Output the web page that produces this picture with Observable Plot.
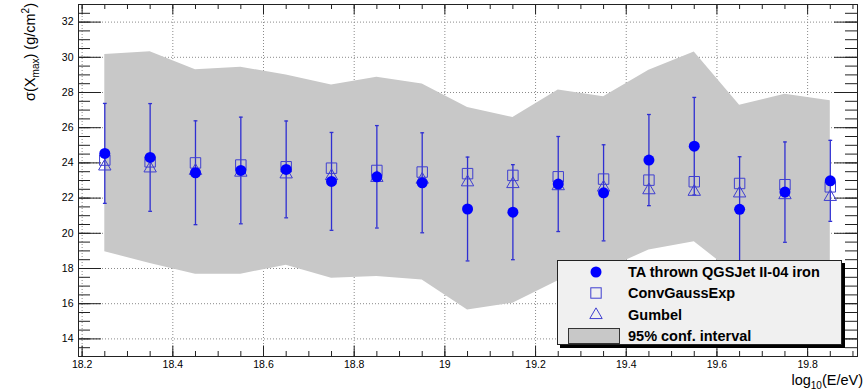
<!DOCTYPE html>
<html>
<head>
<meta charset="utf-8">
<script src="https://cdn.jsdelivr.net/npm/d3@7"></script>
<script src="https://cdn.jsdelivr.net/npm/@observablehq/plot@0.6"></script>
<style>
  body { margin: 0; background: #fff; }
  #wrap { position: relative; width: 866px; height: 391px; font-family: "Liberation Sans", Arial, Helvetica, sans-serif; }
  #legend { position: absolute; left: 557px; top: 260px; width: 285px; height: 85px; box-sizing: border-box;
            background: #f0f0f0; border: 1px solid #222; box-shadow: 3px 3px 0 #000; }
  #legend .row { position: absolute; left: 0; height: 20px; width: 100%; }
  #legend .lab { position: absolute; left: 70px; top: 50%; transform: translateY(-50%); font-weight: bold; font-size: 14.5px; color: #000; white-space: nowrap; }
  #legend svg { position: absolute; left: 0; top: 0; }
</style>
</head>
<body>
<div id="wrap"></div>
<script>
// ---- data ----
const energy = [18.25, 18.35, 18.45, 18.55, 18.65, 18.75, 18.85, 18.95, 19.05, 19.15, 19.25, 19.35, 19.45, 19.55, 19.65, 19.75, 19.85];
const taIron = [24.54, 24.31, 23.44, 23.57, 23.63, 22.95, 23.21, 22.87, 21.38, 21.20, 22.80, 22.30, 24.16, 24.95, 21.36, 22.34, 22.98];
const taErr = [2.84, 3.06, 2.95, 3.03, 2.75, 2.78, 2.91, 2.84, 2.95, 2.70, 2.70, 2.73, 2.59, 2.77, 2.99, 2.85, 2.30];
const convGaussExp = [24.16, 24.06, 24.00, 23.88, 23.78, 23.70, 23.57, 23.48, 23.39, 23.29, 23.21, 23.08, 23.02, 22.93, 22.83, 22.76, 22.64];
const gumbel = [23.80, 23.69, 23.55, 23.45, 23.35, 23.25, 23.15, 23.05, 22.90, 22.80, 22.68, 22.60, 22.45, 22.36, 22.27, 22.17, 22.07];
const bandLow = [18.95, 18.29, 17.68, 17.68, 18.19, 17.45, 17.55, 17.34, 15.64, 16.03, 17.30, 17.90, 19.05, 19.52, 17.50, 17.60, 17.30];
const bandHigh = [30.16, 30.31, 29.29, 29.44, 28.99, 28.42, 28.86, 28.48, 27.15, 26.58, 28.14, 27.76, 29.27, 30.30, 27.28, 27.90, 27.53];
const xTicks = [18.2, 18.4, 18.6, 18.8, 19.0, 19.2, 19.4, 19.6, 19.8];
const yTicks = [14, 16, 18, 20, 22, 24, 26, 28, 30, 32];
const legendLabels = ["TA thrown QGSJet II-04 iron", "ConvGaussExp", "Gumbel", "95% conf. interval"];

// ---- layout ----
const width = 866, height = 391;
const mL = 78, mR = 9, mT = 4, mB = 35;
const W = width - mL - mR, H = height - mT - mB;
const xDomain = [18.192, 19.91], yDomain = [13, 33];

const blue = "#0000ff", barBlue = "#2f2fd2", openBlue = "#3f3fd0", bandGray = "#c8c8c8", axisCol = "#222";

const rows = energy.map((x, i) => ({x, ta: taIron[i], err: taErr[i], cge: convGaussExp[i], gum: gumbel[i], lo: bandLow[i], hi: bandHigh[i]}));
const xMinor = d3.range(0, 35).map(k => 18.2 + 0.05 * k).filter(v => v <= xDomain[1]);
const yMinor = d3.range(0, 41).map(k => 13 + 0.5 * k);

const capSymbol = {
  draw(ctx, size) { const h = Math.sqrt(size / Math.PI); ctx.moveTo(-h, 0); ctx.lineTo(h, 0); }
};
const fmt = d => String(Math.round(d * 10) / 10);

const chart = Plot.plot({
  width, height,
  marginLeft: mL, marginRight: mR, marginTop: mT, marginBottom: mB,
  x: {domain: xDomain, axis: null},
  y: {domain: yDomain, axis: null},
  style: {fontFamily: '"Liberation Sans", Arial, Helvetica, sans-serif', fontSize: "10.5px", background: "#fff", overflow: "visible"},
  marks: [
    Plot.gridX(xTicks, {stroke: "#8a8a8a", strokeOpacity: 1, strokeDasharray: "1,2"}),
    Plot.gridY(yTicks, {stroke: "#8a8a8a", strokeOpacity: 1, strokeDasharray: "1,2"}),
    Plot.areaY(rows, {x: "x", y1: "lo", y2: "hi", fill: bandGray}),
    // inward ticks, ROOT style, on all four sides
    Plot.ruleX(xMinor, {insetTop: H - 5, stroke: axisCol}),
    Plot.ruleX(xTicks, {insetTop: H - 10.5, stroke: axisCol}),
    Plot.ruleX(xMinor, {insetBottom: H - 5, stroke: axisCol}),
    Plot.ruleX(xTicks, {insetBottom: H - 10.5, stroke: axisCol}),
    Plot.ruleY(yMinor, {insetRight: W - 12, stroke: axisCol}),
    Plot.ruleY(yTicks, {insetRight: W - 23, stroke: axisCol}),
    Plot.ruleY(yMinor, {insetLeft: W - 12, stroke: axisCol}),
    Plot.ruleY(yTicks, {insetLeft: W - 23, stroke: axisCol}),
    Plot.axisX(xTicks, {tickSize: 0, tickPadding: 4, tickFormat: fmt, label: null, fontSize: 10.5}),
    Plot.axisY(yTicks, {tickSize: 0, tickPadding: 5, tickFormat: fmt, label: null, fontSize: 10.5}),
    Plot.frame({stroke: axisCol}),
    // error bars
    Plot.ruleX(rows, {x: "x", y1: d => d.ta - d.err, y2: d => d.ta + d.err, stroke: barBlue, strokeWidth: 1.3}),
    Plot.dot(rows, {x: "x", y: d => d.ta - d.err, symbol: capSymbol, r: 1.9, stroke: barBlue, strokeWidth: 1.3, fill: "none"}),
    Plot.dot(rows, {x: "x", y: d => d.ta + d.err, symbol: capSymbol, r: 1.9, stroke: barBlue, strokeWidth: 1.3, fill: "none"}),
    // markers
    Plot.dot(rows, {x: "x", y: "cge", symbol: "square", r: 5.9, stroke: openBlue, strokeWidth: 1, fill: "none"}),
    Plot.dot(rows, {x: "x", y: "gum", symbol: "triangle", r: 4.6, stroke: openBlue, strokeWidth: 1, fill: "none"}),
    Plot.dot(rows, {x: "x", y: "ta", r: 5.5, fill: blue, stroke: "none"})
  ]
});

document.getElementById("wrap").appendChild(chart);

// axis titles with sub/superscripts
const svg = d3.select(chart);
const yt = svg.append("text")
  .attr("transform", "translate(35,3) rotate(-90)")
  .attr("text-anchor", "end")
  .attr("font-size", 14.5)
  .attr("fill", "#000");
yt.append("tspan").text("σ(X");
yt.append("tspan").attr("dy", 4).attr("font-size", 10).text("max");
yt.append("tspan").attr("dy", -4).text(") (g/cm");
yt.append("tspan").attr("dy", -6).attr("font-size", 10).text("2");
yt.append("tspan").attr("dy", 6).text(")");

const xt = svg.append("text")
  .attr("x", 863).attr("y", 385)
  .attr("text-anchor", "end")
  .attr("font-size", 14.5)
  .attr("fill", "#000");
xt.append("tspan").text("log");
xt.append("tspan").attr("dy", 4).attr("font-size", 10).text("10");
xt.append("tspan").attr("dy", -4).text("(E/eV)");

// legend (HTML overlay inside the frame, as in the reference)
const legend = d3.select("#wrap").append("div").attr("id", "legend");
const rowCenters = [11, 32, 53.5, 74.5];
const kinds = ["circle", "square", "triangle", "band"];
kinds.forEach((k, i) => {
  const row = legend.append("div").attr("class", "row").style("top", (rowCenters[i] - 10) + "px");
  const s = row.append("svg").attr("width", 68).attr("height", 20);
  const cx = 38, cy = 10;
  if (k === "circle") s.append("circle").attr("cx", cx).attr("cy", cy).attr("r", 5.5).attr("fill", blue);
  if (k === "square") s.append("rect").attr("x", cx - 5.2).attr("y", cy - 5.2).attr("width", 10.4).attr("height", 10.4).attr("fill", "none").attr("stroke", openBlue);
  if (k === "triangle") s.append("path").attr("d", d3.symbol(d3.symbolTriangle, 4.6 * 4.6 * Math.PI)()).attr("transform", `translate(${cx},${cy})`).attr("fill", "none").attr("stroke", openBlue);
  if (k === "band") s.append("rect").attr("x", 10.5).attr("y", 2.5).attr("width", 51).attr("height", 15).attr("fill", bandGray).attr("stroke", "#333");
  row.append("span").attr("class", "lab").text(legendLabels[i]);
});
</script>
</body>
</html>
